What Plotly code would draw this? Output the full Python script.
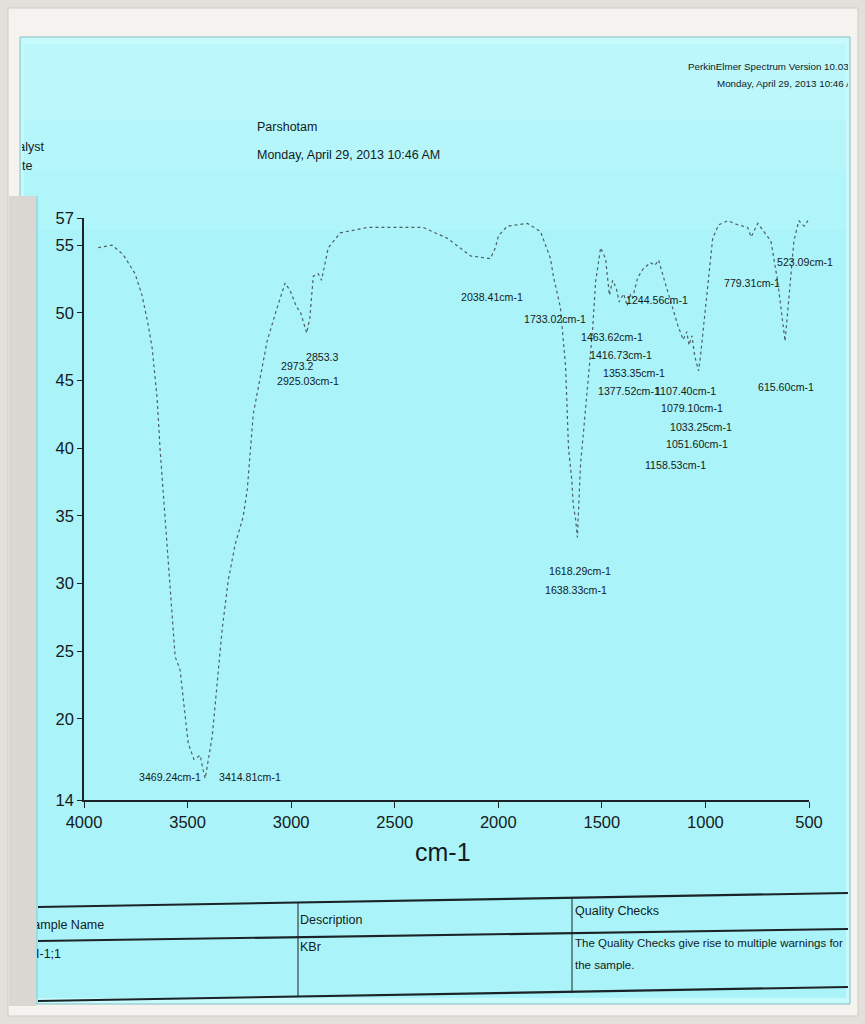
import plotly.graph_objects as go

W, H = 865, 1024

# ---- spectrum: wavenumber (cm-1) and transmittance (%T) ----
wavenumber = [3932, 3865, 3811, 3754, 3720, 3690, 3671, 3647, 3633, 3618,
              3608, 3584, 3560, 3536, 3521, 3497, 3469.24, 3439, 3425, 3414.81,
              3381, 3357, 3333, 3304, 3270, 3232, 3212, 3183, 3116, 3067,
              3029, 3004, 2973.2, 2956, 2925.03, 2910, 2893, 2870, 2853.3, 2821,
              2763, 2632, 2506, 2362, 2246, 2134, 2038.41, 2014, 1999, 1956,
              1859, 1796, 1748, 1733.02, 1700, 1675, 1661, 1645, 1638.33, 1627,
              1618.29, 1603, 1588, 1554, 1545, 1530, 1506, 1482, 1463.62, 1448,
              1430, 1416.73, 1395, 1377.52, 1365, 1353.35, 1327, 1298, 1264, 1244.56,
              1226, 1202, 1158.53, 1134, 1107.40, 1090, 1079.10, 1065, 1051.60, 1033.25,
              1023, 1008, 989, 965, 936, 892, 844, 796, 779.31, 747,
              718, 684, 651, 627, 615.60, 597, 573, 549, 523.09, 505]
transmittance = [54.8, 55.0, 54.3, 52.9, 51.3, 49.1, 47.4, 43.7, 40.0, 36.9,
                 35.1, 30.2, 24.6, 23.6, 21.6, 18.2, 17.0, 17.3, 16.2, 15.6,
                 18.7, 22.6, 26.6, 30.2, 32.9, 34.9, 36.9, 42.5, 47.9, 50.4,
                 52.2, 51.6, 50.4, 50.1, 48.5, 49.6, 52.7, 52.9, 52.4, 54.8,
                 55.9, 56.3, 56.3, 56.3, 55.5, 54.2, 54.0, 54.8, 55.7, 56.4,
                 56.6, 56.0, 54.0, 52.6, 50.4, 46.0, 40.0, 37.6, 35.8, 34.8,
                 33.4, 38.8, 41.3, 47.4, 48.7, 52.3, 54.8, 54.0, 51.3, 52.4,
                 51.8, 50.8, 51.4, 50.5, 51.4, 51.0, 52.6, 53.3, 53.7, 53.5,
                 53.9, 52.6, 50.4, 49.1, 48.0, 48.6, 47.6, 48.3, 46.8, 45.7,
                 46.9, 49.1, 52.3, 55.5, 56.5, 56.8, 56.5, 56.3, 55.6, 56.6,
                 56.0, 55.3, 52.3, 49.1, 47.9, 51.1, 55.3, 56.8, 56.4, 56.8]
assert len(wavenumber) == len(transmittance)

x_ticks = [4000, 3500, 3000, 2500, 2000, 1500, 1000, 500]
y_ticks = [14, 20, 25, 30, 35, 40, 45, 50, 55, 57]

# peak picking labels
peak_labels = ["3469.24cm-1", "3414.81cm-1", "2853.3", "2973.2", "2925.03cm-1",
               "2038.41cm-1", "1733.02cm-1", "1463.62cm-1", "1416.73cm-1",
               "1353.35cm-1", "1377.52cm-1", "1107.40cm-1", "1079.10cm-1",
               "1033.25cm-1", "1051.60cm-1", "1158.53cm-1", "1244.56cm-1",
               "779.31cm-1", "523.09cm-1", "615.60cm-1", "1618.29cm-1", "1638.33cm-1"]

# ---- layout helpers (pixel -> paper) ----
FONT = "Liberation Sans, Arial, sans-serif"
INK = "#141a1c"


def px(x):
    return x / W


def py(y):
    return 1 - y / H


label_pos = [(170, 777), (250, 777), (322, 357), (297, 366), (308, 381),
             (492, 297), (555, 319), (612, 337), (621, 355),
             (634, 373), (629, 391), (685, 391), (692, 408),
             (701, 427), (697, 444), (675, 465), (657, 300),
             (752, 283), (805, 262), (786, 387), (580, 571), (576, 590)]

fig = go.Figure()

# spectrum trace
fig.add_trace(go.Scatter(
    x=wavenumber, y=transmittance, mode="lines",
    line=dict(color="#4d5f64", width=1.2, dash="3px,3px"),
    hoverinfo="skip", showlegend=False, xaxis="x", yaxis="y"))

# header text (clipped by the panel)
header = [("Analyst", 3, 148, 12.5), ("Date", 6, 167, 12.5),
          ("Parshotam", 257, 128, 12.5), ("Monday, April 29, 2013 10:46 AM", 257, 156, 12.5),
          ("PerkinElmer Spectrum Version 10.03.06", 688, 68, 9.8),
          ("Monday, April 29, 2013 10:46 AM", 717, 85, 9.8)]
for t, x, y, s in header:
    fig.add_trace(go.Scatter(x=[x], y=[y], mode="text", text=[t],
                             textposition="middle right", cliponaxis=True,
                             textfont=dict(family=FONT, size=s, color=INK),
                             hoverinfo="skip", showlegend=False,
                             xaxis="x2", yaxis="y2"))

# sample table text (clipped by the panel)
table = [("Sample Name", 25, 926, 12.5), ("Description", 300, 921, 12.5),
         ("Quality Checks", 575, 912, 12.5), ("I-1;1", 36, 955, 12.5),
         ("KBr", 300, 948, 12.5),
         ("The Quality Checks give rise to multiple warnings for", 575, 944, 11.5),
         ("the sample.", 575, 966, 11.5)]
for t, x, y, s in table:
    fig.add_trace(go.Scatter(x=[x], y=[y], mode="text", text=[t],
                             textposition="middle right", cliponaxis=True,
                             textfont=dict(family=FONT, size=s, color=INK),
                             hoverinfo="skip", showlegend=False,
                             xaxis="x3", yaxis="y3"))

shapes = []
# page frame
shapes.append(dict(type="rect", xref="paper", yref="paper", x0=px(8), x1=px(858),
                   y0=py(1016), y1=py(8), fillcolor="#f4f3f0",
                   line=dict(color="#cfcbc5", width=1), layer="below"))
# bevelled cyan panel
shapes.append(dict(type="rect", xref="paper", yref="paper", x0=px(20), x1=px(850),
                   y0=py(1004), y1=py(37), fillcolor="#c6fafd",
                   line=dict(color="#86bcc2", width=1), layer="below"))
bands = [(44, 120, "#bbf7fb"), (120, 170, "#b4f6fa"), (170, 230, "#aff5f9"),
         (230, 998, "#aaf4f9")]
for y0, y1, c in bands:
    shapes.append(dict(type="rect", xref="paper", yref="paper", x0=px(24), x1=px(846),
                       y0=py(y1), y1=py(y0), fillcolor=c,
                       line=dict(width=0), layer="below"))
# grey strip down the left side of the page
shapes.append(dict(type="rect", xref="paper", yref="paper", x0=px(9), x1=px(36),
                   y0=py(1006), y1=py(196), fillcolor="#dad7d2",
                   line=dict(width=0), layer="below"))
shapes.append(dict(type="line", xref="paper", yref="paper", x0=px(37), x1=px(37),
                   y0=py(1004), y1=py(196), line=dict(color="#8cc3c8", width=1),
                   layer="below"))

# table rules (scan is slightly rotated)
rules = [((38, 907), (848, 893), 2.2), ((38, 941), (848, 929), 2.2),
         ((38, 1001), (848, 987), 2.2)]
for (x0, y0), (x1, y1), w in rules:
    shapes.append(dict(type="line", xref="paper", yref="paper",
                       x0=px(x0), y0=py(y0), x1=px(x1), y1=py(y1),
                       line=dict(color="#1b2326", width=w)))
for x, y0, y1 in [(298, 903, 997), (572, 899, 993)]:
    shapes.append(dict(type="line", xref="paper", yref="paper",
                       x0=px(x), y0=py(y0), x1=px(x), y1=py(y1),
                       line=dict(color="#1b2326", width=1)))

annotations = []
for t, (x, y) in zip(peak_labels, label_pos):
    annotations.append(dict(xref="paper", yref="paper", x=px(x), y=py(y),
                            text=t, showarrow=False, xanchor="center", yanchor="middle",
                            font=dict(family=FONT, size=10.6, color=INK)))
annotations.append(dict(xref="paper", yref="paper", x=px(443), y=py(852), text="cm-1",
                        showarrow=False, xanchor="center", yanchor="middle",
                        font=dict(family=FONT, size=25, color=INK)))

axis_font = dict(family=FONT, size=16.5, color=INK)
fig.update_layout(
    width=W, height=H, margin=dict(l=0, r=0, t=0, b=0, autoexpand=False),
    paper_bgcolor="#e3e0db", plot_bgcolor="rgba(0,0,0,0)",
    shapes=shapes, annotations=annotations, showlegend=False,
    xaxis=dict(domain=[px(84), px(809)], range=[4000, 500], tickvals=x_ticks,
               showgrid=False, zeroline=False, showline=True, linecolor="#1b2326",
               linewidth=1.6, ticks="outside", ticklen=6, tickcolor="#1b2326",
               tickfont=axis_font, anchor="y", fixedrange=True, automargin=False),
    yaxis=dict(domain=[py(800), py(218)], range=[14, 57], tickvals=y_ticks,
               showgrid=False, zeroline=False, showline=True, linecolor="#1b2326",
               linewidth=1.6, ticks="outside", ticklen=5, tickcolor="#1b2326",
               tickfont=axis_font, anchor="x", fixedrange=True, automargin=False),
    xaxis2=dict(domain=[px(22), px(848)], range=[22, 848], visible=False,
                anchor="y2", fixedrange=True, automargin=False),
    yaxis2=dict(domain=[py(200), py(40)], range=[200, 40], visible=False,
                anchor="x2", fixedrange=True, automargin=False),
    xaxis3=dict(domain=[px(37), px(848)], range=[37, 848], visible=False,
                anchor="y3", fixedrange=True, automargin=False),
    yaxis3=dict(domain=[py(1000), py(885)], range=[1000, 885], visible=False,
                anchor="x3", fixedrange=True, automargin=False),
)

fig.write_html("out.html")
